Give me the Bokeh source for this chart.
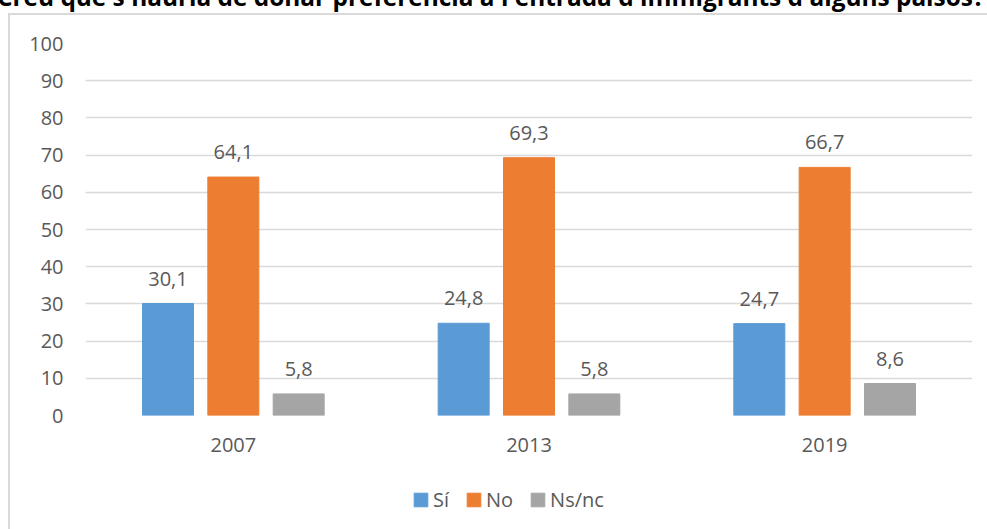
from bokeh.plotting import figure
from bokeh.layouts import column
from bokeh.models import (ColumnDataSource, Range1d, FixedTicker, Legend, LegendItem,
                          LabelSet, Div)
from bokeh.core.properties import value
from bokeh.transform import dodge
from bokeh.embed import file_html
from bokeh.resources import INLINE

# ---- data ----
title = "Creu que s'hauria de donar preferència a l'entrada d'immigrants d'alguns països?"
years = ["2007", "2013", "2019"]
si = [30.1, 24.8, 24.7]
no = [64.1, 69.3, 66.7]
nsnc = [5.8, 5.8, 8.6]
series_names = ["Sí", "No", "Ns/nc"]
y_ticks = [0, 10, 20, 30, 40, 50, 60, 70, 80, 90, 100]

colors = ["#5B9BD5", "#ED7D31", "#A5A5A5"]
FONT = "Open Sans"
TXT = "#595959"
GRID = "#D9D9D9"

def fmt(v):
    return f"{v:.1f}".replace(".", ",")

src = ColumnDataSource(dict(
    year=years, si=si, no=no, nsnc=nsnc,
    si_l=[fmt(v) for v in si], no_l=[fmt(v) for v in no], nsnc_l=[fmt(v) for v in nsnc],
))

# ---- title (its top is cut by the page edge, as in the reference) ----
title_style = ("font-family:'Open Sans';font-weight:bold;font-size:24.4px;line-height:32px;"
               "white-space:nowrap;color:#000;position:relative;top:-3px;left:-3px;")
head = Div(text=f'<div style="{title_style}">{title}</div>', width=987, height=32, margin=0,
           styles={"font-family": "Open Sans", "font-weight": "bold", "font-size": "24.4px",
                   "line-height": "32px", "white-space": "nowrap", "color": "#000"})

# ---- main chart ----
p = figure(x_range=years, y_range=Range1d(0, 100), width=987, height=454,
           output_backend="svg", toolbar_location=None,
           min_border_left=85, min_border_right=15, min_border_top=27, min_border_bottom=55)
p.x_range.range_padding = 0
p.outline_line_color = None
p.background_fill_color = None
p.border_fill_color = None

p.xgrid.grid_line_color = None
p.ygrid.ticker = FixedTicker(ticks=y_ticks)
p.ygrid.grid_line_color = GRID
p.ygrid.grid_line_width = 1.3

p.yaxis.ticker = FixedTicker(ticks=y_ticks)
p.yaxis.axis_line_color = None
p.yaxis.major_tick_line_color = None
p.yaxis.minor_tick_line_color = None
p.yaxis.major_tick_out = 0
p.yaxis.major_label_standoff = 22
p.yaxis.major_label_text_font = FONT
p.yaxis.major_label_text_font_size = "20px"
p.yaxis.major_label_text_color = TXT

p.xaxis.axis_line_color = None
p.xaxis.major_tick_line_color = None
p.xaxis.major_tick_out = 0
p.xaxis.major_label_standoff = 22
p.xaxis.major_label_text_font = FONT
p.xaxis.major_label_text_font_size = "20px"
p.xaxis.major_label_text_color = TXT

BW = 0.1725
OFF = 0.221
keys = ["si", "no", "nsnc"]
offs = [-OFF, 0.0, OFF]
for k, o, c in zip(keys, offs, colors):
    p.vbar(x=dodge("year", o, range=p.x_range), top=k, width=BW, bottom=0,
           source=src, fill_color=c, line_color=c)
    p.add_layout(LabelSet(x=dodge("year", o, range=p.x_range), y=k, text=k + "_l", source=src,
                          text_align="center", text_baseline="alphabetic", y_offset=18,
                          text_font=value(FONT), text_font_size=value("20px"), text_color=TXT))

# ---- legend strip (same series; its y range keeps the bars out of view) ----
p2 = figure(width=987, height=59, x_range=p.x_range, y_range=Range1d(200, 300),
            output_backend="svg", toolbar_location=None, min_border=0,
            x_axis_location=None, y_axis_location=None)
p2.grid.visible = False
p2.outline_line_color = None
p2.background_fill_color = None
p2.border_fill_color = None
leg_r = [p2.vbar(x=dodge("year", o, range=p2.x_range), top=k, width=BW, bottom=0,
                 source=src, fill_color=c, line_color=c)
         for k, o, c in zip(keys, offs, colors)]
legend = Legend(items=[LegendItem(label=n, renderers=[r]) for n, r in zip(series_names, leg_r)],
                orientation="horizontal", location=(327, 16),
                glyph_width=17, glyph_height=17, label_standoff=4, spacing=16,
                label_width=0, padding=0, margin=0,
                border_line_color=None, background_fill_alpha=0,
                label_text_font=FONT, label_text_font_size="20px", label_text_color=TXT)
p2.add_layout(legend, "center")

border_css = ("linear-gradient(#D9D9D9,#D9D9D9) 8px 29px / 2px 1000px no-repeat, "
              "linear-gradient(#D9D9D9,#D9D9D9) 8px 29px / 2000px 2px no-repeat, #FFFFFF")
layout = column(head, p, p2, margin=(-16, 0, 0, 0), spacing=0,
                styles={"background": border_css})

open("out.html", "w").write(file_html(layout, INLINE))
